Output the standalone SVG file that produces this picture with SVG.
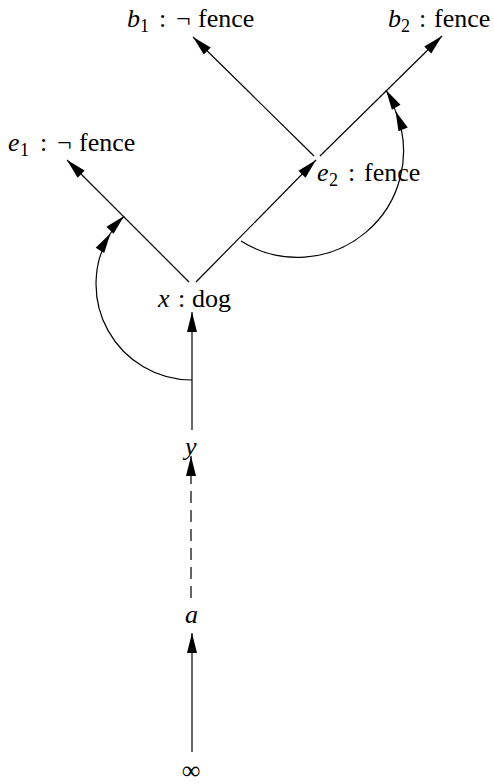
<svg xmlns="http://www.w3.org/2000/svg" width="494" height="784" viewBox="0 0 494 784">
<defs>
<style>
.lbl { font-family: 'Liberation Serif', 'Times New Roman', serif; font-size: 26px; fill: #000; }
.it { font-style: italic; }
.sub { font-size: 18px; }
.edge { fill: none; stroke: #000; stroke-width: 1.2; }
.dash { stroke-dasharray: 12 7; }
</style>
<marker id="arr" viewBox="-20 -5 20 10" refX="0" refY="0" markerWidth="20" markerHeight="10" markerUnits="userSpaceOnUse" orient="auto" overflow="visible">
<path d="M0,0 L-20,-5 L-20,5 Z" fill="#000"/>
</marker>
</defs>
<rect width="494" height="784" fill="#fff"/>
<g id="connectors">
<line class="edge" x1="192" y1="752" x2="192" y2="633" marker-end="url(#arr)"/>
<line class="edge dash" x1="191" y1="598" x2="191" y2="456" marker-end="url(#arr)"/>
<line class="edge" x1="192" y1="430" x2="192" y2="312" marker-end="url(#arr)"/>
<line class="edge" x1="189" y1="282" x2="67" y2="160" marker-end="url(#arr)"/>
<line class="edge" x1="196" y1="282" x2="316" y2="160" marker-end="url(#arr)"/>
<line class="edge" x1="314" y1="156" x2="193" y2="37" marker-end="url(#arr)"/>
<line class="edge" x1="320" y1="156" x2="442" y2="36" marker-end="url(#arr)"/>
<path class="edge" d="M192,380 A96,96 0 0 1 110.5,233.3" marker-end="url(#arr)"/>
<path class="edge" d="M110.5,233.3 A96,96 0 0 1 124.1,216.1" marker-end="url(#arr)"/>
<path class="edge" d="M241,241 A106,106 0 0 0 395.5,110.9" marker-end="url(#arr)"/>
<path class="edge" d="M395.5,110.9 A106,106 0 0 0 386,90" marker-end="url(#arr)"/>
</g>
<g id="b1"><text class="lbl" y="27"><tspan class="it" x="127">b</tspan><tspan class="sub" x="140" dy="5">1</tspan><tspan x="159" dy="-5">:</tspan><tspan x="176">¬</tspan><tspan x="198">fence</tspan></text></g>
<g id="b2"><text class="lbl" y="27"><tspan class="it" x="388">b</tspan><tspan class="sub" x="401" dy="5">2</tspan><tspan x="419" dy="-5">:</tspan><tspan x="434">fence</tspan></text></g>
<g id="e1"><text class="lbl" y="151"><tspan class="it" x="8">e</tspan><tspan class="sub" x="20" dy="5">1</tspan><tspan x="40" dy="-5">:</tspan><tspan x="57">¬</tspan><tspan x="79">fence</tspan></text></g>
<g id="e2"><text class="lbl" y="181"><tspan class="it" x="317">e</tspan><tspan class="sub" x="329" dy="5">2</tspan><tspan x="348" dy="-5">:</tspan><tspan x="364">fence</tspan></text></g>
<g id="x"><text class="lbl" y="307"><tspan class="it" x="158">x</tspan><tspan x="178">:</tspan><tspan x="192">dog</tspan></text></g>
<g id="y"><text class="lbl it" x="185" y="455">y</text></g>
<g id="a"><text class="lbl it" x="185" y="623">a</text></g>
<g id="inf"><text class="lbl" x="191" y="779" text-anchor="middle">∞</text></g>
</svg>
